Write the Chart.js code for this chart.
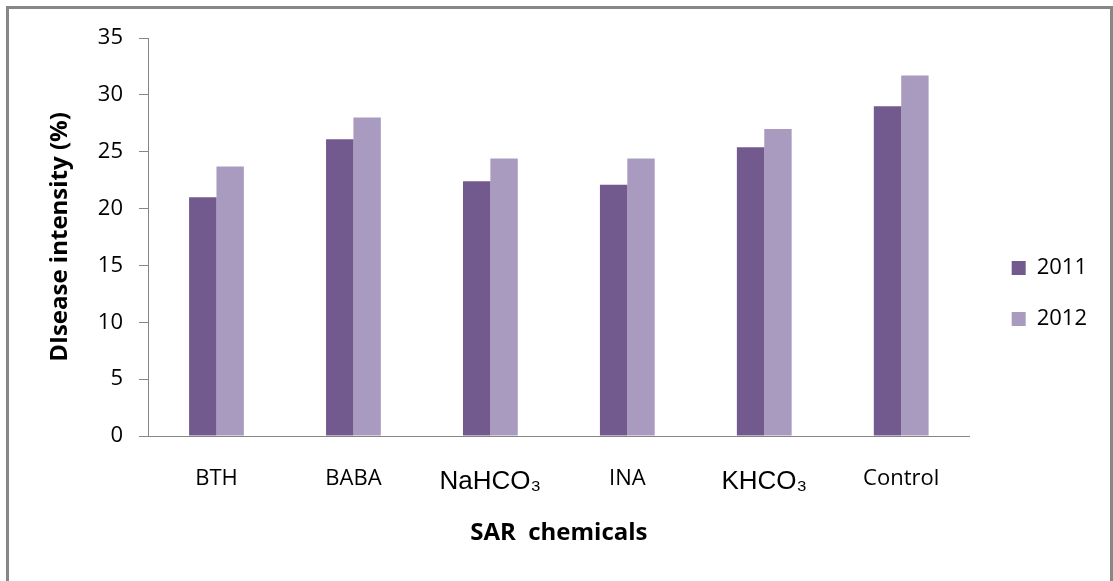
<!DOCTYPE html>
<html>
<head>
<meta charset="utf-8">
<script src="https://cdn.jsdelivr.net/npm/chart.js@4"></script>
<style>
    html, body { margin: 0; padding: 0; background: #fff; overflow: hidden; }
    #frame {
        position: absolute; left: 6px; top: 6px; width: 1101px; height: 620px;
        border: 3px solid #878787; border-bottom: none;
    }
    #wrap { position: absolute; left: 0; top: 0; width: 1113px; height: 581px; }
</style>
</head>
<body>
<div id="frame"></div>
<div id="wrap"><canvas id="sarChart"></canvas></div>
<script>
const categories = ["BTH", "BABA", "NaHCO\u2083", "INA", "KHCO\u2083", "Control"];
const values2011 = [21.0, 26.1, 22.4, 22.1, 25.4, 29.0];
const values2012 = [23.7, 28.0, 24.4, 24.4, 27.0, 31.7];
const yTicks = [0, 5, 10, 15, 20, 25, 30, 35];

const bodyFont = "'Open Sans', Lato, sans-serif";
const formulaLabels = [2, 4];

const ctx = document.getElementById("sarChart");

const sarChart = new Chart(ctx, {
    type: "bar",
    data: {
        labels: categories,
        datasets: [
            {
                label: "2011",
                data: values2011,
                backgroundColor: "#725A8E",
                categoryPercentage: 0.4,
                barPercentage: 1.0
            },
            {
                label: "2012",
                data: values2012,
                backgroundColor: "#A99ABF",
                categoryPercentage: 0.4,
                barPercentage: 1.0
            }
        ]
    },
    options: {
        responsive: true,
        maintainAspectRatio: false,
        animation: false,
        layout: {
            padding: { left: 46, top: 38, right: 16, bottom: 32 }
        },
        plugins: {
            tooltip: { enabled: false },
            legend: {
                position: "right",
                labels: {
                    color: "#000",
                    boxWidth: 14,
                    boxHeight: 14,
                    padding: 29,
                    font: { family: bodyFont, size: 22 }
                }
            }
        },
        scales: {
            x: {
                grid: { display: false },
                border: { display: true, color: "#868686", width: 1 },
                ticks: {
                    color: "#000",
                    padding: 22,
                    maxRotation: 0,
                    font: c => formulaLabels.includes(c.index)
                        ? { family: "'Liberation Sans', Arial, sans-serif", size: 26 }
                        : { family: bodyFont, size: 22 }
                },
                title: {
                    display: true,
                    text: "SAR  chemicals",
                    color: "#000",
                    font: { family: bodyFont, size: 24, weight: "bold" },
                    padding: { top: 0, bottom: 1 }
                },
                afterFit: scale => { scale.height = 113; }
            },
            y: {
                min: 0,
                max: 35,
                afterBuildTicks: scale => { scale.ticks = yTicks.map(v => ({ value: v })); },
                grid: {
                    display: true,
                    drawOnChartArea: false,
                    drawTicks: true,
                    tickLength: 9,
                    color: "#868686"
                },
                border: { display: true, color: "#868686", width: 1 },
                ticks: {
                    color: "#000",
                    padding: 16,
                    font: { family: bodyFont, size: 22 }
                },
                title: {
                    display: true,
                    text: "DIsease intensity (%)",
                    color: "#000",
                    font: { family: bodyFont, size: 24, weight: "bold" },
                    padding: { top: 0, bottom: 0 }
                },
                afterFit: scale => { scale.width = 102; }
            },
            // empty spacer between the plot and the legend
            gap: {
                type: "linear",
                position: "right",
                grid: { display: false },
                border: { display: false },
                ticks: { display: false },
                afterFit: scale => { scale.width = 13; }
            }
        }
    }
});
</script>
</body>
</html>
